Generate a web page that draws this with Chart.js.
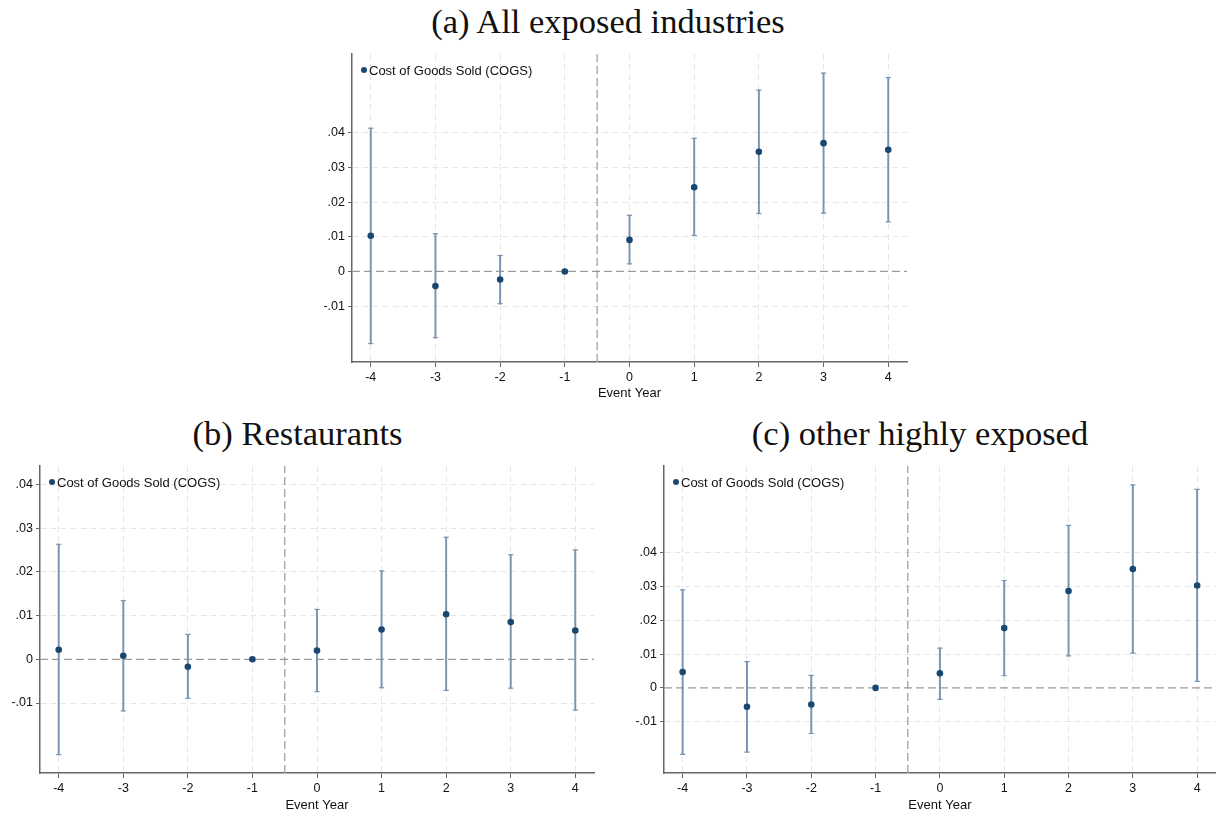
<!DOCTYPE html>
<html>
<head>
<meta charset="utf-8">
<script src="https://cdn.jsdelivr.net/npm/chart.js@4.4.1/dist/chart.umd.min.js"></script>
<style>
  body { margin: 0; background: #fff; width: 1221px; height: 817px; position: relative; overflow: hidden; }
  canvas { position: absolute; }
  .ttl { position: absolute; font-family: "Liberation Serif", "Times New Roman", serif; font-size: 34.5px; color: #111; text-align: center; white-space: nowrap; }
  .lgd { position: absolute; font-family: "Liberation Sans", Arial, sans-serif; font-size: 13px; color: #111; white-space: nowrap; line-height: 14px; }
  .lgd i { display: inline-block; width: 6px; height: 6px; border-radius: 50%; background: #1a476f; margin-right: 2px; vertical-align: 2px; }
</style>
</head>
<body>
<div class="ttl" style="left:308px; top:0px; width:600px; height:42px; line-height:42px;">(a) All exposed industries</div>
<div class="ttl" style="left:0px; top:412px; width:595px; height:42px; line-height:42px;">(b) Restaurants</div>
<div class="ttl" style="left:620px; top:412px; width:600px; height:42px; line-height:42px;">(c) other highly exposed</div>

<canvas id="chart-a" width="630" height="370" style="left:290px; top:40px;"></canvas>
<canvas id="chart-b" width="610" height="362" style="left:0px; top:455px;"></canvas>
<canvas id="chart-c" width="606" height="362" style="left:615px; top:455px;"></canvas>

<div class="lgd" style="left:361px; top:64px;"><i></i>Cost of Goods Sold (COGS)</div>
<div class="lgd" style="left:49px; top:476px;"><i></i>Cost of Goods Sold (COGS)</div>
<div class="lgd" style="left:673px; top:476px;"><i></i>Cost of Goods Sold (COGS)</div>

<script>
// event years on the x axis
const years = [-4, -3, -2, -1, 0, 1, 2, 3, 4];
const xLabel = 'Event Year';
const legendLabel = 'Cost of Goods Sold (COGS)';

// (a) All exposed industries
const coefA = [0.0103, -0.0042, -0.0023, 0, 0.0091, 0.0243, 0.0345, 0.0370, 0.0351];
const lowA  = [-0.0208, -0.0191, -0.0093, null, 0.0022, 0.0104, 0.0167, 0.0168, 0.0143];
const highA = [0.0413, 0.0109, 0.0046, null, 0.0162, 0.0384, 0.0523, 0.0572, 0.0559];

// (b) Restaurants
const coefB = [0.0022, 0.0008, -0.0017, 0, 0.0020, 0.0068, 0.0103, 0.0085, 0.0066];
const lowB  = [-0.0218, -0.0118, -0.0089, null, -0.0074, -0.0065, -0.0071, -0.0066, -0.0116];
const highB = [0.0263, 0.0134, 0.0057, null, 0.0114, 0.0202, 0.0279, 0.0239, 0.0250];

// (c) other highly exposed
const coefC = [0.0047, -0.0056, -0.0049, 0, 0.0043, 0.0177, 0.0287, 0.0352, 0.0303];
const lowC  = [-0.0197, -0.0190, -0.0135, null, -0.0034, 0.0036, 0.0095, 0.0103, 0.0019];
const highC = [0.0290, 0.0078, 0.0037, null, 0.0118, 0.0318, 0.0481, 0.0601, 0.0588];

// y ticks
const yTicksA = [-0.01, 0, 0.01, 0.02, 0.03, 0.04];
const yTicksB = [-0.01, 0, 0.01, 0.02, 0.03, 0.04];
const yTicksC = [-0.01, 0, 0.01, 0.02, 0.03, 0.04];
const yTickLabels = ['-.01', '0', '.01', '.02', '.03', '.04'];

const eventLine = -0.5;
const navy = '#1a476f';
const ciColor = '#7894b0';

function makeChart(id, coef, low, high, yTicks, box) {
  const pts = years.map((x, i) => ({ x: x, y: coef[i] }));
  const bars = [];
  const caps = [];
  years.forEach((x, i) => {
    if (low[i] === null) return;
    bars.push({ x: x, y: [low[i], high[i]] });
    caps.push({ x: x, y: low[i] });
    caps.push({ x: x, y: high[i] });
  });

  const config = {
    type: 'scatter',
    data: {
      datasets: [
        {
          label: legendLabel,
          data: pts,
          pointRadius: 3.3,
          pointBackgroundColor: navy,
          pointBorderWidth: 0,
          order: 0
        },
        {
          type: 'bar',
          label: 'ci',
          data: bars,
          backgroundColor: ciColor,
          barThickness: 1.3,
          order: 1
        },
        {
          label: 'caps',
          data: caps,
          pointStyle: 'line',
          pointRadius: 2.6,
          borderColor: ciColor,
          pointBorderWidth: 1.2,
          order: 1
        },
        {
          type: 'line',
          label: 'zero',
          data: [{ x: box.xMin, y: 0 }, { x: box.xMax, y: 0 }],
          borderColor: '#9a9a9a',
          borderWidth: 1.2,
          borderDash: [8, 4],
          pointRadius: 0,
          order: 3
        },
        {
          type: 'line',
          label: 'event',
          data: [{ x: eventLine, y: box.yMin }, { x: eventLine, y: box.yMax }],
          borderColor: '#ababab',
          borderWidth: 1.5,
          borderDash: [8, 4],
          pointRadius: 0,
          order: 3
        }
      ]
    },
    options: {
      responsive: false,
      animation: false,
      events: [],
      layout: { padding: { left: 0, right: box.padR, top: box.padT, bottom: 0 } },
      plugins: { legend: { display: false }, tooltip: { enabled: false } },
      scales: {
        x: {
          type: 'linear',
          min: box.xMin,
          max: box.xMax,
          offset: false,
          afterBuildTicks: (s) => { s.ticks = years.map(v => ({ value: v })); },
          afterFit: (s) => { s.height = box.xH; },
          ticks: {
            color: '#111',
            padding: 3,
            maxRotation: 0,
            font: { family: 'Liberation Sans', size: 12.5 },
            callback: (v) => String(v)
          },
          grid: { offset: false, color: '#e6e6e6', lineWidth: 1, tickLength: 5, tickColor: '#666' },
          border: { color: '#666', width: 1.5, dash: [6, 4] },
          title: {
            display: true,
            text: xLabel,
            color: '#111',
            font: { family: 'Liberation Sans', size: 13 },
            padding: { top: 0, bottom: box.titlePad }
          }
        },
        y: {
          type: 'linear',
          min: box.yMin,
          max: box.yMax,
          afterBuildTicks: (s) => { s.ticks = yTicks.map(v => ({ value: v })); },
          afterFit: (s) => { s.width = box.yW; },
          ticks: {
            color: '#111',
            padding: 3,
            font: { family: 'Liberation Sans', size: 12.5 },
            callback: (v) => {
              const k = yTicks.findIndex(t => Math.abs(t - v) < 1e-9);
              return k >= 0 ? yTickLabels[k] : '';
            }
          },
          grid: {
            color: (c) => (c.tick && c.tick.value === 0 ? 'rgba(0,0,0,0)' : '#e6e6e6'),
            lineWidth: 1,
            tickLength: 4,
            tickColor: '#666'
          },
          border: { color: '#666', width: 1.5, dash: [6, 4] }
        }
      }
    }
  };

  const ctx = document.getElementById(id).getContext('2d');
  return new Chart(ctx, config);
}

makeChart('chart-a', coefA, lowA, highA, yTicksA,
  { xMin: -4.29, xMax: 4.29, yMin: -0.0261, yMax: 0.0627, padR: 13, padT: 14, xH: 48, yW: 62, titlePad: 9 });
makeChart('chart-b', coefB, lowB, highB, yTicksB,
  { xMin: -4.29, xMax: 4.29, yMin: -0.026, yMax: 0.0442, padR: 16, padT: 11, xH: 44, yW: 40, titlePad: 4 });
makeChart('chart-c', coefC, lowC, highC, yTicksC,
  { xMin: -4.29, xMax: 4.29, yMin: -0.0252, yMax: 0.0657, padR: 3, padT: 11, xH: 44, yW: 49, titlePad: 4 });
</script>
</body>
</html>
